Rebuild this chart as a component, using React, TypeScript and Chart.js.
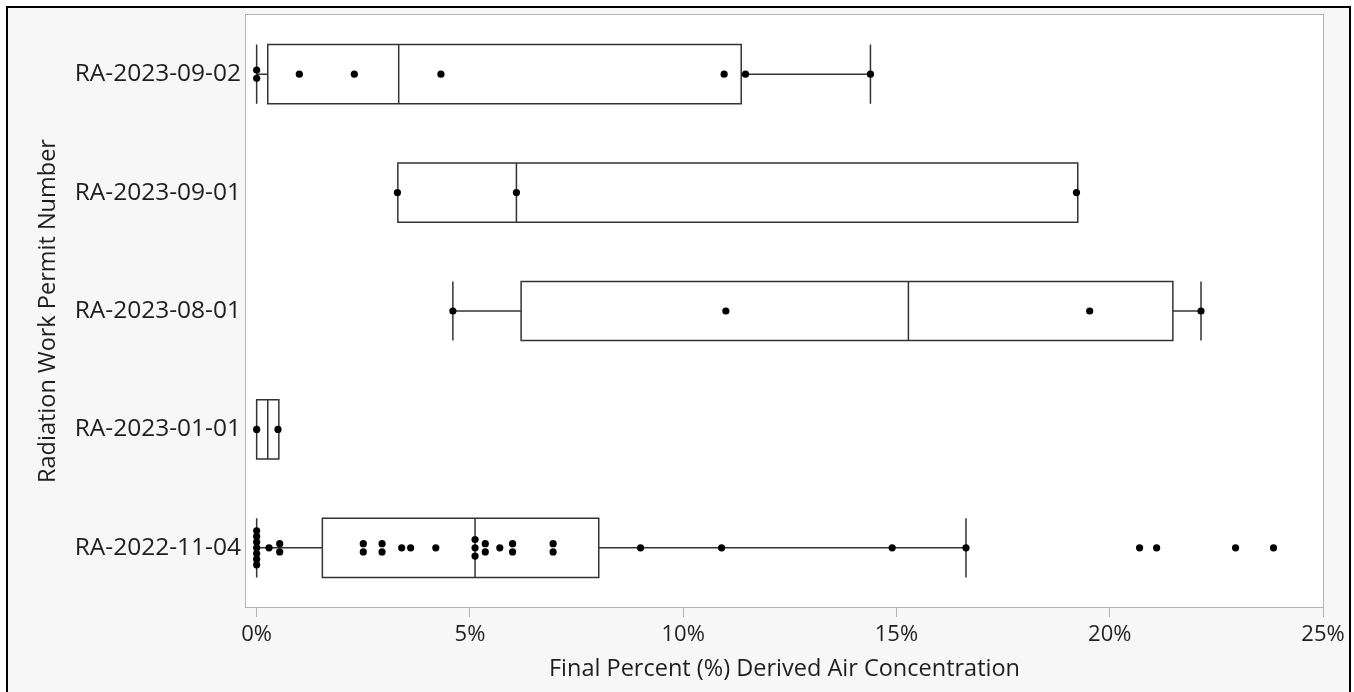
import React, { useEffect, useRef } from 'react';
import { Chart, registerables } from 'chart.js';

Chart.register(...registerables);

// Categories, bottom (index 0) to top (index 4)
const CATEGORIES = ['RA-2022-11-04', 'RA-2023-01-01', 'RA-2023-08-01', 'RA-2023-09-01', 'RA-2023-09-02'];

// Box plot statistics (percent)
const WHISKER_LOW = [0, 0, 4.6, 3.31, 0];
const Q1 = [1.54, 0, 6.2, 3.31, 0.26];
const MEDIAN = [5.12, 0.26, 15.28, 6.09, 3.33];
const Q3 = [8.02, 0.52, 21.48, 19.25, 11.36];
const WHISKER_HIGH = [16.63, 0.52, 22.14, 19.25, 14.39];

// Individual observations (percent)
const POINTS_RA_2022_11_04 = [
  0, 0, 0, 0, 0, 0, 0, 0.29, 0.54, 0.54, 2.5, 2.5, 2.94, 2.94, 3.4, 3.61, 4.2,
  5.12, 5.12, 5.12, 5.36, 5.36, 5.7, 6.0, 6.0, 6.95, 6.95, 9.0, 10.9, 14.9, 16.63,
  20.7, 21.1, 22.95, 23.84,
];
const POINTS_RA_2023_01_01 = [0, 0.5];
const POINTS_RA_2023_08_01 = [4.6, 11.0, 19.53, 22.14];
const POINTS_RA_2023_09_01 = [3.3, 6.09, 19.22];
const POINTS_RA_2023_09_02 = [0, 0, 1.0, 2.29, 4.32, 10.96, 11.46, 14.39];

const POINTS = [
  POINTS_RA_2022_11_04,
  POINTS_RA_2023_01_01,
  POINTS_RA_2023_08_01,
  POINTS_RA_2023_09_01,
  POINTS_RA_2023_09_02,
];

const X_TICKS = [0, 5, 10, 15, 20, 25];

const FONT_FAMILY = "'Segoe UI', 'Open Sans', sans-serif";
const TEXT_COLOR = '#1e1e1e';
const LINE_COLOR = '#333333';
const FRAME_COLOR = '#b4b4b4';
const BOX_HALF = 0.25; // half box height in category units

function buildScatter() {
  const out: { x: number; y: number }[] = [];
  POINTS.forEach((vals, idx) => {
    const counts = new Map<number, number>();
    vals.forEach((v) => counts.set(v, (counts.get(v) || 0) + 1));
    const seen = new Map<number, number>();
    vals.forEach((v) => {
      const n = counts.get(v) || 1;
      const k = seen.get(v) || 0;
      seen.set(v, k + 1);
      const step = n > 3 ? 0.048 : 0.07;
      out.push({ x: v, y: idx + (k - (n - 1) / 2) * step });
    });
  });
  return out;
}

const boxPlugin = {
  id: 'boxPlot',
  beforeDraw(chart: any) {
    const { ctx, chartArea: a } = chart;
    ctx.save();
    ctx.fillStyle = '#ffffff';
    ctx.fillRect(a.left, a.top, a.right - a.left, a.bottom - a.top);
    ctx.restore();
  },
  beforeDatasetsDraw(chart: any) {
    const { ctx } = chart;
    const xs = chart.scales.x;
    const ys = chart.scales.y;
    ctx.save();
    ctx.strokeStyle = LINE_COLOR;
    ctx.lineWidth = 1.5;
    CATEGORIES.forEach((_, i) => {
      const yc = ys.getPixelForValue(i);
      const yt = ys.getPixelForValue(i + BOX_HALF);
      const yb = ys.getPixelForValue(i - BOX_HALF);
      const wl = xs.getPixelForValue(WHISKER_LOW[i]);
      const q1 = xs.getPixelForValue(Q1[i]);
      const md = xs.getPixelForValue(MEDIAN[i]);
      const q3 = xs.getPixelForValue(Q3[i]);
      const wh = xs.getPixelForValue(WHISKER_HIGH[i]);
      ctx.beginPath();
      if (WHISKER_LOW[i] < Q1[i]) {
        ctx.moveTo(wl, yc);
        ctx.lineTo(q1, yc);
        ctx.moveTo(wl, yt);
        ctx.lineTo(wl, yb);
      }
      if (WHISKER_HIGH[i] > Q3[i]) {
        ctx.moveTo(q3, yc);
        ctx.lineTo(wh, yc);
        ctx.moveTo(wh, yt);
        ctx.lineTo(wh, yb);
      }
      ctx.rect(q1, yt, q3 - q1, yb - yt);
      ctx.moveTo(md, yt);
      ctx.lineTo(md, yb);
      ctx.stroke();
    });
    ctx.restore();
  },
  afterDraw(chart: any) {
    const { ctx, chartArea: a } = chart;
    ctx.save();
    ctx.strokeStyle = FRAME_COLOR;
    ctx.lineWidth = 1;
    ctx.strokeRect(
      Math.round(a.left) - 0.5,
      Math.round(a.top) - 0.5,
      Math.round(a.right) - Math.round(a.left) + 1,
      Math.round(a.bottom) - Math.round(a.top) + 1
    );
    ctx.restore();
  },
};

export default function App() {
  const canvasRef = useRef<HTMLCanvasElement | null>(null);

  useEffect(() => {
    const canvas = canvasRef.current;
    if (!canvas) return;
    const chart = new Chart(canvas, {
      type: 'scatter',
      data: {
        datasets: [
          {
            data: buildScatter(),
            pointRadius: 3.6,
            pointHoverRadius: 3.6,
            pointBackgroundColor: '#000000',
            pointBorderWidth: 0,
            showLine: false,
          },
        ],
      },
      options: {
        responsive: false,
        animation: false,
        events: [],
        layout: { padding: { top: 15, right: 31, bottom: 0, left: 0 } },
        plugins: {
          legend: { display: false },
          tooltip: { enabled: false },
        },
        scales: {
          x: {
            type: 'linear',
            min: -0.25,
            max: 25,
            afterBuildTicks: (scale: any) => {
              scale.ticks = X_TICKS.map((v) => ({ value: v }));
            },
            afterFit: (scale: any) => {
              scale.height = 85;
              scale.paddingLeft = 0;
              scale.paddingRight = 0;
            },
            border: { display: false },
            grid: {
              display: true,
              drawOnChartArea: false,
              drawTicks: true,
              tickLength: 10,
              color: FRAME_COLOR,
              tickColor: FRAME_COLOR,
            },
            ticks: {
              padding: 5,
              color: TEXT_COLOR,
              font: { family: FONT_FAMILY, size: 22 },
              callback: (v: any) => `${v}%`,
            },
            title: {
              display: true,
              text: 'Final Percent (%) Derived Air Concentration',
              color: TEXT_COLOR,
              font: { family: FONT_FAMILY, size: 23.5 },
              padding: { top: 0, bottom: 9 },
            },
          },
          y: {
            type: 'linear',
            min: -0.5,
            max: 4.5,
            afterBuildTicks: (scale: any) => {
              scale.ticks = CATEGORIES.map((_, i) => ({ value: i }));
            },
            afterFit: (scale: any) => {
              scale.width = 246;
              scale.paddingTop = 0;
              scale.paddingBottom = 0;
            },
            border: { display: false },
            grid: { display: false, drawTicks: false },
            ticks: {
              padding: 5,
              color: TEXT_COLOR,
              font: { family: FONT_FAMILY, size: 24.5 },
              callback: (v: any) => CATEGORIES[v as number] ?? '',
            },
            title: {
              display: true,
              text: 'Radiation Work Permit Number',
              color: TEXT_COLOR,
              font: { family: FONT_FAMILY, size: 23.5 },
              padding: { top: 34, bottom: 0 },
            },
          },
        },
      },
      plugins: [boxPlugin],
    } as any);
    return () => chart.destroy();
  }, []);

  return (
    <div style={{ position: 'fixed', left: 0, top: 0, width: 1354, height: 692, background: '#ffffff', overflow: 'hidden' }}>
      <div
        style={{
          position: 'absolute',
          left: 6,
          top: 6,
          width: 1345,
          height: 720,
          boxSizing: 'border-box',
          border: '2px solid #000000',
          background: '#f7f7f7',
        }}
      />
      <canvas
        ref={canvasRef}
        width={1354}
        height={692}
        style={{ position: 'absolute', left: 0, top: 0, width: 1354, height: 692 }}
      />
    </div>
  );
}
